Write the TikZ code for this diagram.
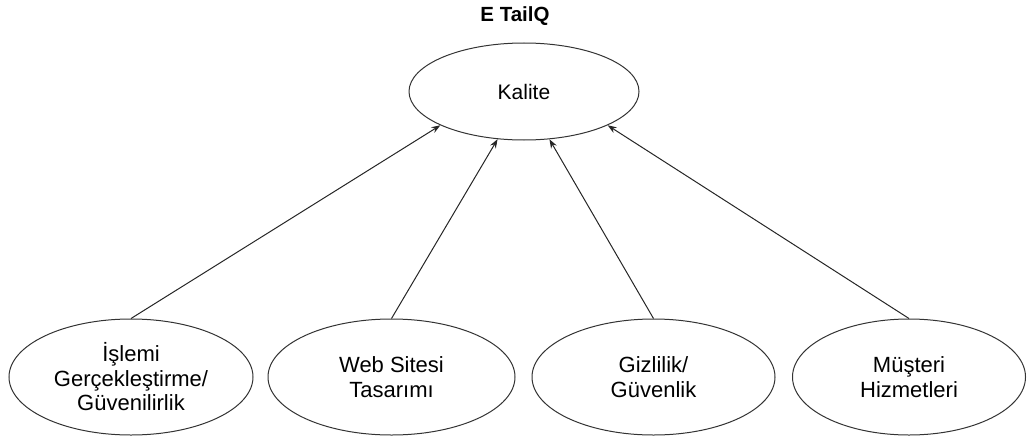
\documentclass[tikz,border=0pt]{standalone}
\usepackage{fontspec}
\setmainfont{Liberation Sans}
\usetikzlibrary{shapes.geometric,arrows.meta}
\tikzset{
  oval/.style={ellipse, draw=black!80, line width=1pt, inner sep=0pt,
    align=center, font=\fontsize{22}{24.5}\selectfont},
  link/.style={draw=black!85, line width=1pt,
    -{Stealth[length=9pt,width=6.5pt]}}
}
\begin{document}
\begin{tikzpicture}[x=1pt,y=-1pt]
  \useasboundingbox (0,0) rectangle (1027,436);
  % title
  \node[font=\fontsize{20.5}{24}\selectfont\bfseries] (title) at (515,16) {E TailQ};
  % top concept
  \node[oval, font=\fontsize{21}{24}\selectfont, minimum width=230pt, minimum height=97pt] (kal) at (524,91.5) {Kalite};
  % dimensions
  \node[oval, minimum width=244pt, minimum height=116pt] (d1) at (131,377)
    {İşlemi\\Gerçekleştirme/\\Güvenilirlik};
  \node[oval, minimum width=247pt, minimum height=116pt] (d2) at (391.5,377)
    {Web Sitesi\\Tasarımı};
  \node[oval, minimum width=243pt, minimum height=116pt] (d3) at (653.5,377)
    {Gizlilik/\\Güvenlik};
  \node[oval, minimum width=233pt, minimum height=116pt] (d4) at (909,377)
    {Müşteri\\Hizmetleri};
  % connectors
  \draw[link] (d1.north) -- (kal.202);
  \draw[link] (d2.north) -- (kal.241);
  \draw[link] (d3.north) -- (kal.298);
  \draw[link] (d4.north) -- (kal.338);
\end{tikzpicture}
\end{document}
